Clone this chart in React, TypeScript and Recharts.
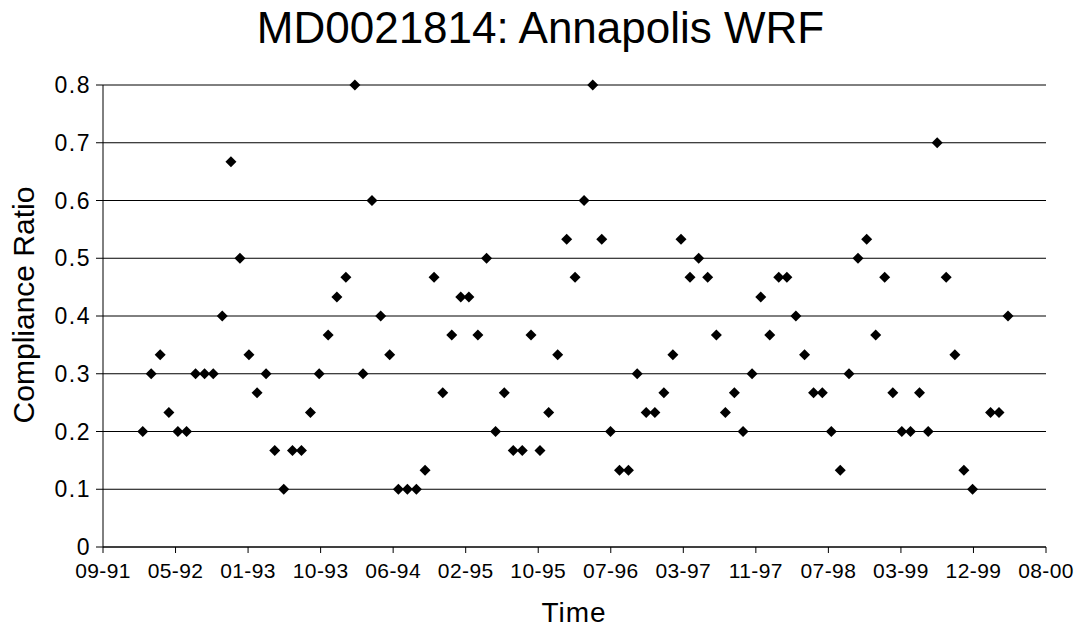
import { ScatterChart, Scatter, XAxis, YAxis, CartesianGrid } from 'recharts'

// monthly samples
const sampleMonths = [
  '1992-02', '1992-03', '1992-04', '1992-05', '1992-06', '1992-07', '1992-08', '1992-09', '1992-10', '1992-11', '1992-12',
  '1993-01', '1993-02', '1993-03', '1993-04', '1993-05', '1993-06', '1993-07', '1993-08', '1993-09', '1993-10', '1993-11', '1993-12',
  '1994-01', '1994-02', '1994-03', '1994-04', '1994-05', '1994-06', '1994-07', '1994-08', '1994-09', '1994-10', '1994-11', '1994-12',
  '1995-01', '1995-02', '1995-03', '1995-04', '1995-05', '1995-06', '1995-07', '1995-08', '1995-09', '1995-10', '1995-11', '1995-12',
  '1996-01', '1996-02', '1996-03', '1996-04', '1996-05', '1996-06', '1996-07', '1996-08', '1996-09', '1996-10', '1996-11', '1996-12',
  '1997-01', '1997-02', '1997-03', '1997-04', '1997-05', '1997-06', '1997-07', '1997-08', '1997-09', '1997-10', '1997-11', '1997-12',
  '1998-01', '1998-02', '1998-03', '1998-04', '1998-05', '1998-06', '1998-07', '1998-08', '1998-09', '1998-10', '1998-11', '1998-12',
  '1999-01', '1999-02', '1999-03', '1999-04', '1999-05', '1999-06', '1999-07', '1999-08', '1999-09', '1999-10', '1999-11', '1999-12',
  '2000-02', '2000-03', '2000-04',
]

const complianceRatio = [
  0.2, 0.3, 0.333, 0.233, 0.2, 0.2, 0.3, 0.3, 0.3, 0.4, 0.667,
  0.5, 0.333, 0.267, 0.3, 0.167, 0.1, 0.167, 0.167, 0.233, 0.3, 0.367, 0.433,
  0.467, 0.8, 0.3, 0.6, 0.4, 0.333, 0.1, 0.1, 0.1, 0.133, 0.467, 0.267,
  0.367, 0.433, 0.433, 0.367, 0.5, 0.2, 0.267, 0.167, 0.167, 0.367, 0.167, 0.233,
  0.333, 0.533, 0.467, 0.6, 0.8, 0.533, 0.2, 0.133, 0.133, 0.3, 0.233, 0.233,
  0.267, 0.333, 0.533, 0.467, 0.5, 0.467, 0.367, 0.233, 0.267, 0.2, 0.3, 0.433,
  0.367, 0.467, 0.467, 0.4, 0.333, 0.267, 0.267, 0.2, 0.133, 0.3, 0.5, 0.533,
  0.367, 0.467, 0.267, 0.2, 0.2, 0.267, 0.2, 0.7, 0.467, 0.333, 0.133, 0.1,
  0.233, 0.233, 0.4,
]

const xTickLabels = [
  '09-91', '05-92', '01-93', '10-93', '06-94', '02-95', '10-95',
  '07-96', '03-97', '11-97', '07-98', '03-99', '12-99', '08-00',
]
const yTicks = [0, 0.1, 0.2, 0.3, 0.4, 0.5, 0.6, 0.7, 0.8]

const DAY = 86400000
const toDay = (ym: string) => {
  const [y, m] = ym.split('-').map(Number)
  return Date.UTC(y, m - 1, 1) / DAY
}

// excel-style date axis: starts mid Sept 1991, one tick every 250 days
const axisStart = Date.UTC(1991, 8, 17) / DAY
const tickStep = 250
const xTicks = xTickLabels.map((_, i) => axisStart + i * tickStep)

const data = sampleMonths.map((m, i) => ({ t: toDay(m), ratio: complianceRatio[i] }))

const font = '"Liberation Sans", Arial, sans-serif'

const Diamond = (props: any) => {
  const { cx, cy } = props
  const r = 5.5
  return <path d={`M${cx},${cy - r}L${cx + r},${cy}L${cx},${cy + r}L${cx - r},${cy}Z`} fill="#000" />
}

export default function App() {
  return (
    <div style={{ position: 'absolute', left: 0, top: 0, width: 1081, height: 636, background: '#fff', fontFamily: font }}>
      <div style={{ position: 'absolute', top: 6, left: 0, width: 1081, textAlign: 'center', fontSize: 44, lineHeight: '44px', color: '#000' }}>
        MD0021814: Annapolis WRF
      </div>
      <ScatterChart width={1081} height={636} margin={{ top: 85, right: 35, bottom: 0, left: 0 }}>
        <CartesianGrid vertical={false} stroke="#000" strokeWidth={1} />
        <XAxis
          type="number"
          dataKey="t"
          domain={[axisStart, axisStart + tickStep * (xTickLabels.length - 1)]}
          ticks={xTicks}
          interval={0}
          tickFormatter={(v: number) => xTickLabels[Math.round((v - axisStart) / tickStep)]}
          height={89}
          stroke="#000"
          tickSize={6}
          tickMargin={10}
          tick={{ fill: '#000', fontSize: 21, fontFamily: font, letterSpacing: 0.4 }}
          label={{
            value: 'Time',
            content: () => (
              <text x={574} y={622} textAnchor="middle" fontSize={28} fontFamily={font} fill="#000" letterSpacing={1}>
                Time
              </text>
            ),
          }}
        />
        <YAxis
          type="number"
          dataKey="ratio"
          domain={[0, 0.8]}
          ticks={yTicks}
          interval={0}
          width={103}
          stroke="#000"
          tickSize={7}
          tickMargin={5}
          tickFormatter={(v: number) => String(v)}
          tick={{ fill: '#000', fontSize: 23, fontFamily: font, letterSpacing: 1.5 }}
          label={{
            value: 'Compliance Ratio',
            content: () => (
              <text x={33.5} y={305} transform="rotate(-90 33.5 305)" textAnchor="middle" fontSize={30} fontFamily={font} fill="#000">
                Compliance Ratio
              </text>
            ),
          }}
        />
        <Scatter data={data} shape={Diamond} isAnimationActive={false} />
      </ScatterChart>
    </div>
  )
}
